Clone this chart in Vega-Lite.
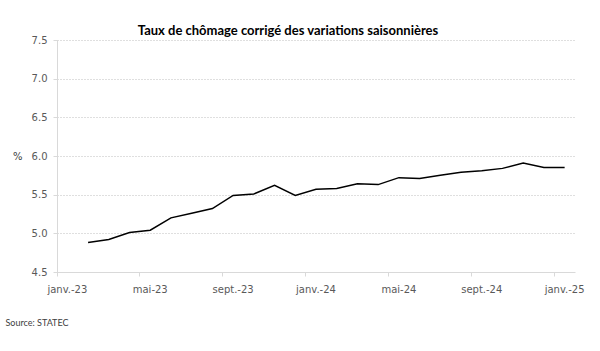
{
  "$schema": "https://vega.github.io/schema/vega-lite/v6.json",
  "width": 518,
  "height": 232,
  "autosize": {"type": "none"},
  "padding": {"left": 57, "top": 40, "right": 25, "bottom": 79},
  "background": "white",
  "title": {
    "text": "Taux de chômage corrigé des variations saisonnières",
    "font": "Lato",
    "fontSize": 13,
    "fontWeight": "bold",
    "color": "#000000",
    "anchor": "middle",
    "frame": "group",
    "dx": -28,
    "offset": -3
  },
  "data": {
    "values": [
      {"mois": "janv.-23", "taux": null},
      {"mois": "févr.-23", "taux": 4.88},
      {"mois": "mars-23", "taux": 4.92},
      {"mois": "avr.-23", "taux": 5.01},
      {"mois": "mai-23", "taux": 5.04},
      {"mois": "juin-23", "taux": 5.20},
      {"mois": "juil.-23", "taux": 5.26},
      {"mois": "août-23", "taux": 5.32},
      {"mois": "sept.-23", "taux": 5.49},
      {"mois": "oct.-23", "taux": 5.51},
      {"mois": "nov.-23", "taux": 5.62},
      {"mois": "déc.-23", "taux": 5.49},
      {"mois": "janv.-24", "taux": 5.57},
      {"mois": "févr.-24", "taux": 5.58},
      {"mois": "mars-24", "taux": 5.64},
      {"mois": "avr.-24", "taux": 5.63},
      {"mois": "mai-24", "taux": 5.72},
      {"mois": "juin-24", "taux": 5.71},
      {"mois": "juil.-24", "taux": 5.75},
      {"mois": "août-24", "taux": 5.79},
      {"mois": "sept.-24", "taux": 5.81},
      {"mois": "oct.-24", "taux": 5.84},
      {"mois": "nov.-24", "taux": 5.91},
      {"mois": "déc.-24", "taux": 5.85},
      {"mois": "janv.-25", "taux": 5.85}
    ]
  },
  "mark": {"type": "line", "color": "#000000", "strokeWidth": 1.5},
  "encoding": {
    "x": {
      "field": "mois",
      "type": "ordinal",
      "sort": null,
      "scale": {
        "type": "band",
        "paddingInner": 0,
        "paddingOuter": 0,
        "domain": ["janv.-23","févr.-23","mars-23","avr.-23","mai-23","juin-23","juil.-23","août-23","sept.-23","oct.-23","nov.-23","déc.-23","janv.-24","févr.-24","mars-24","avr.-24","mai-24","juin-24","juil.-24","août-24","sept.-24","oct.-24","nov.-24","déc.-24","janv.-25"]
      },
      "axis": {
        "values": ["janv.-23","mai-23","sept.-23","janv.-24","mai-24","sept.-24","janv.-25"],
        "bandPosition": 0,
        "labelOffset": 0,
        "labelAngle": 0,
        "labelFont": "DejaVu Sans",
        "labelFontSize": 10,
        "labelColor": "#595959",
        "labelPadding": 8,
        "domainColor": "#d9d9d9",
        "tickColor": "#d9d9d9",
        "tickSize": 4,
        "grid": false,
        "title": "Source: STATEC",
        "titleFont": "Lato",
        "titleFontSize": 9,
        "titleFontWeight": "normal",
        "titleColor": "#404040",
        "titleAnchor": "start",
        "titleAlign": "left",
        "titleBaseline": "middle",
        "titleX": -52,
        "titleY": 50
      }
    },
    "y": {
      "field": "taux",
      "type": "quantitative",
      "scale": {"domain": [4.5, 7.5], "nice": false, "zero": false},
      "axis": {
        "values": [4.5, 5.0, 5.5, 6.0, 6.5, 7.0, 7.5],
        "format": ".1f",
        "labelFont": "DejaVu Sans",
        "labelFontSize": 10,
        "labelColor": "#595959",
        "labelPadding": 6,
        "domainColor": "#d9d9d9",
        "tickColor": "#d9d9d9",
        "tickSize": 4,
        "grid": true,
        "gridColor": "#bfbfbf",
        "gridDash": [1, 2],
        "gridWidth": 1,
        "title": "%",
        "titleAngle": 0,
        "titleFont": "DejaVu Sans",
        "titleFontSize": 10,
        "titleFontWeight": "normal",
        "titleColor": "#404040",
        "titleAlign": "right",
        "titleBaseline": "middle",
        "titleX": -35,
        "titleY": 116
      }
    }
  },
  "config": {"view": {"stroke": null}}
}
